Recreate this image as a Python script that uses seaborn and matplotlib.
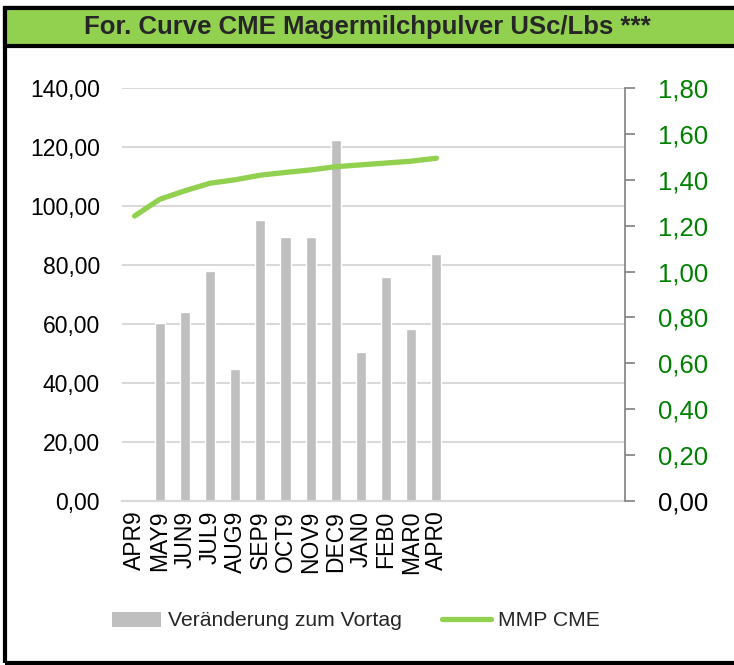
import numpy as np
import pandas as pd
import seaborn as sns
import matplotlib.pyplot as plt
from matplotlib.patches import Rectangle, Patch
from matplotlib.lines import Line2D
from matplotlib.ticker import FuncFormatter, MultipleLocator

# daten aus dem chart
monate = ['APR9', 'MAY9', 'JUN9', 'JUL9', 'AUG9', 'SEP9', 'OCT9',
          'NOV9', 'DEC9', 'JAN0', 'FEB0', 'MAR0', 'APR0']
veraenderung = [0.0, 60.2, 64.1, 77.8, 44.7, 95.2, 89.6,
                89.6, 122.5, 50.5, 75.8, 58.3, 83.7]
mmp_cme = [1.242, 1.315, 1.352, 1.385, 1.400, 1.420, 1.432,
           1.443, 1.457, 1.465, 1.473, 1.481, 1.494]
n_slots = 20  # excel-bereich mit leeren zeilen

titel = 'For. Curve CME Magermilchpulver USc/Lbs ***'
grau = '#bfbfbf'
gruen = '#92d050'

sns.set_theme(style='white')
plt.rcParams['font.family'] = ['Liberation Sans', 'DejaVu Sans']

df = pd.DataFrame({'Monat': monate, 'Veraenderung': veraenderung, 'MMP': mmp_cme})

fig = plt.figure(figsize=(7.34, 6.65), dpi=100)
W, H = 734, 665
ax = fig.add_axes([122 / W, 1 - 501 / H, (625 - 122) / W, (501 - 88) / H])

sns.barplot(data=df, x='Monat', y='Veraenderung', order=monate, color=grau,
            width=0.4, saturation=1, ax=ax)
ax.set_xlim(-0.5, n_slots - 0.5)
ax.set_ylim(0, 140)
ax.yaxis.set_major_locator(MultipleLocator(20))
ax.yaxis.set_major_formatter(FuncFormatter(lambda v, p: f'{v:.2f}'.replace('.', ',')))
ax.grid(axis='y', color='#d9d9d9', lw=1.5)
ax.set_axisbelow(True)
ax.set_xlabel('')
ax.set_ylabel('')
for s in ['left', 'right', 'top']:
    ax.spines[s].set_visible(False)
ax.spines['bottom'].set_color('#d9d9d9')
ax.spines['bottom'].set_linewidth(1.5)
ax.tick_params(axis='y', length=0, labelsize=16.5, pad=16, labelcolor='black')
ax.tick_params(axis='x', length=0, labelsize=16.5, pad=7, rotation=90, labelcolor='black')

# zweite achse fuer die kurve
ax2 = ax.twinx()
sns.lineplot(x=np.arange(len(mmp_cme)), y=mmp_cme, color=gruen, lw=3.8, ax=ax2,
             solid_capstyle='round')
ax2.set_ylim(0, 1.8)
ax2.yaxis.set_major_locator(MultipleLocator(0.2))
ax2.yaxis.set_major_formatter(FuncFormatter(lambda v, p: f'{v:.2f}'.replace('.', ',')))
for s in ['left', 'top', 'bottom']:
    ax2.spines[s].set_visible(False)
ax2.spines['right'].set_color('#808080')
ax2.spines['right'].set_linewidth(1.2)
ax2.tick_params(axis='y', right=True, length=7, width=1.2, color='#808080',
                labelsize=18.5, pad=17, labelcolor='#008000')
for lab, val in zip(ax2.get_yticklabels(), ax2.get_yticks()):
    if val == 0:
        lab.set_color('black')
ax2.set_xlim(-0.5, n_slots - 0.5)

# rahmen und titelbalken
fig.patches.append(Rectangle((5 / W, 2 / H), 1.1, 1 - 8 / H - 2 / H, transform=fig.transFigure,
                             fill=False, edgecolor='black', lw=3, zorder=0))
fig.patches.append(Rectangle((5 / W, 1 - 46 / H), 1.1, 38 / H, transform=fig.transFigure,
                             facecolor=gruen, edgecolor='black', lw=3, zorder=1))
fig.text(367 / W, 1 - 27 / H, titel, ha='center', va='center', fontsize=18.5,
         fontweight='bold')

handles = [Patch(facecolor=grau, edgecolor='none'),
           Line2D([], [], color=gruen, lw=3.8, solid_capstyle='round')]
fig.legend(handles, ['Veränderung zum Vortag', 'MMP CME'], ncol=2, frameon=False,
           loc='center', bbox_to_anchor=(356 / W, 1 - 621 / H), fontsize=15.2,
           handlelength=2.3, handleheight=0.7, handletextpad=0.35, columnspacing=1.9)

fig.savefig('out.png', dpi=100)
